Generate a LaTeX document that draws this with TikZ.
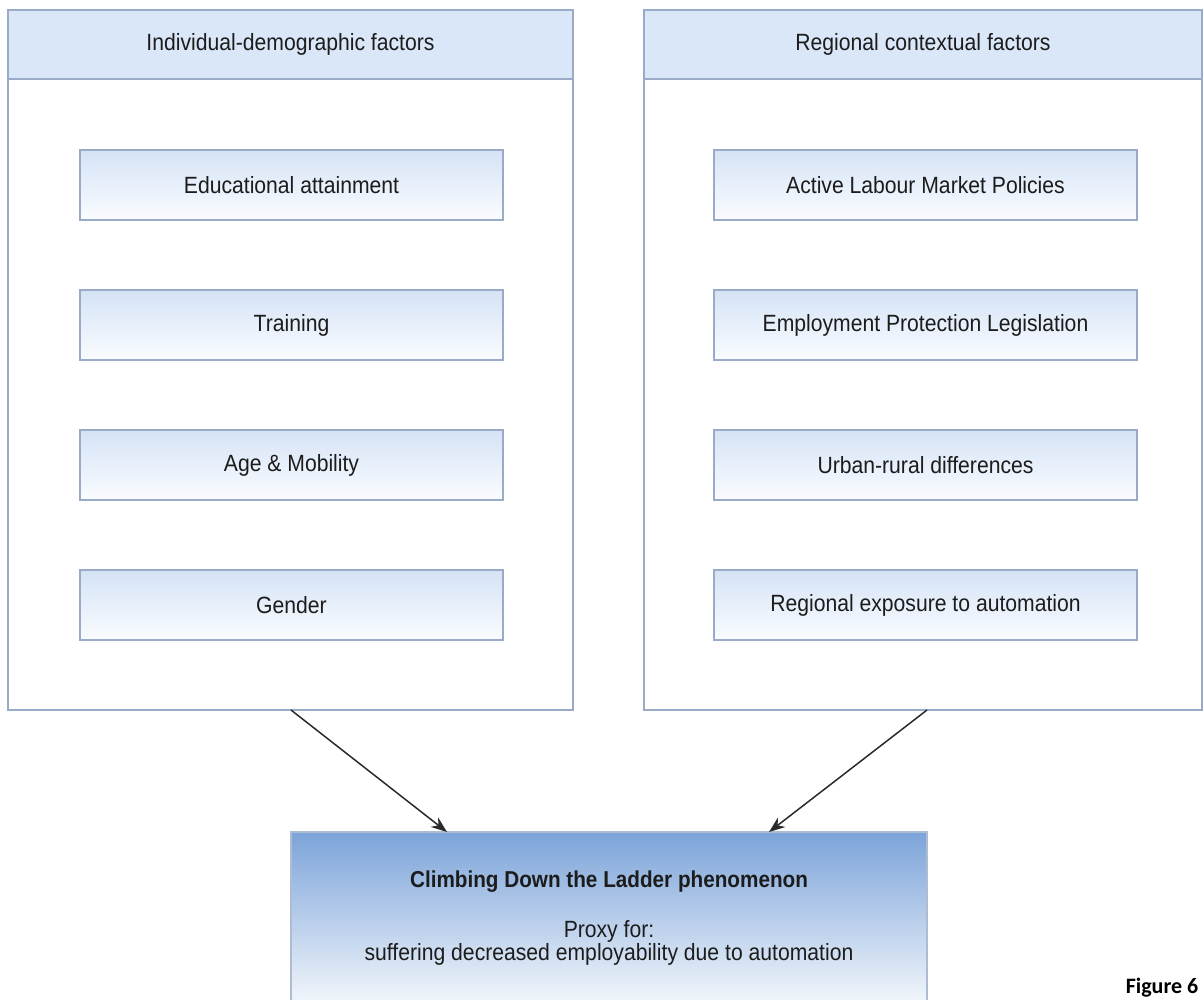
\documentclass[tikz,border=0pt]{standalone}
\usepackage{fontspec}
\setmainfont[FakeStretch=0.9]{Liberation Sans}
\newfontfamily\figfont{Carlito}
\usetikzlibrary{arrows.meta,calc}
\definecolor{panelline}{HTML}{9AABC8}
\definecolor{headfill}{HTML}{DAE7F8}
\definecolor{boxtop}{HTML}{D5E3F6}
\definecolor{boxbot}{HTML}{FAFCFF}
\definecolor{bigtop}{HTML}{7CA4D9}
\definecolor{bigbot}{HTML}{FFFFFF}
\definecolor{txt}{HTML}{1C1C1C}
\definecolor{arrowc}{HTML}{2A2A2A}
\tikzset{
  panel/.style={draw=panelline, line width=1.6pt, fill=white, anchor=north west,
    minimum width=565pt, minimum height=700pt, inner sep=0pt, outer sep=0pt},
  header/.style={draw=panelline, line width=1.6pt, fill=headfill, anchor=north west,
    minimum width=565pt, minimum height=69pt, inner sep=0pt, outer sep=0pt,
    text=txt, font=\fontsize{23.5}{27}\selectfont},
  factor/.style={draw=panelline, line width=1.4pt, top color=boxtop, bottom color=boxbot,
    anchor=north west, minimum width=423pt, minimum height=70pt, inner sep=0pt, outer sep=0pt,
    text=txt, font=\fontsize{23.5}{27}\selectfont},
  outcome/.style={draw=panelline!80, line width=1.2pt, top color=bigtop, bottom color=bigbot,
    anchor=north west, minimum width=636pt, minimum height=190pt, inner sep=0pt, outer sep=0pt},
  link/.style={draw=arrowc, line width=1.5pt, -{Stealth[length=16pt,width=12pt]}},
}
\begin{document}
\begin{tikzpicture}[x=1pt,y=-1pt]
\useasboundingbox (0,0) rectangle (1204,999);
\clip (0,0) rectangle (1204,999);
\fill[white] (0,0) rectangle (1204,999);
% panels
\node[panel] (lpanel) at (8,10) {};
\node[header] (lhead) at (8,10) {Individual-demographic factors};
\node[panel, minimum width=558pt] (rpanel) at (644,10) {};
\node[header, minimum width=558pt] (rhead) at (644,10) {Regional contextual factors};
% left factors
\node[factor] (edu) at (80,150) {Educational attainment};
\node[factor] (train) at (80,290) {Training};
\node[factor] (age) at (80,430) {Age \& Mobility};
\node[factor] (gender) at (80,570) {Gender};
% right factors
\node[factor] (almp) at (714,150) {Active Labour Market Policies};
\node[factor] (epl) at (714,290) {Employment Protection Legislation};
\node[factor] (urban) at (714,430) {Urban-rural differences};
\node[factor] (expo) at (714,570) {Regional exposure to automation};
% outcome
\node[outcome] (out) at (291,832) {};
\node[text=txt, font=\bfseries\fontsize{23}{27}\selectfont, anchor=base] (outtitle) at (609,887) {Climbing Down the Ladder phenomenon};
\node[text=txt, font=\fontsize{23.5}{23}\selectfont, align=center, anchor=base] (proxy) at (609,937) {Proxy for:};
\node[text=txt, font=\fontsize{23.5}{23}\selectfont, anchor=base] (proxytext) at (609,960) {suffering decreased employability due to automation};
% arrows
\coordinate (lstart) at ($(lpanel.south west)+(283,0)$);
\coordinate (rstart) at ($(rpanel.south west)+(283,0)$);
\coordinate (lend) at ($(out.north west)+(156,0)$);
\coordinate (rend) at ($(out.north west)+(478,0)$);
\draw[link] (lstart) -- (lend);
\draw[link] (rstart) -- (rend);
% figure label
\node[font=\figfont\bfseries\fontsize{22}{26}\selectfont, text=black, anchor=base] (figlabel) at (1162,993) {Figure 6};
\end{tikzpicture}
\end{document}
